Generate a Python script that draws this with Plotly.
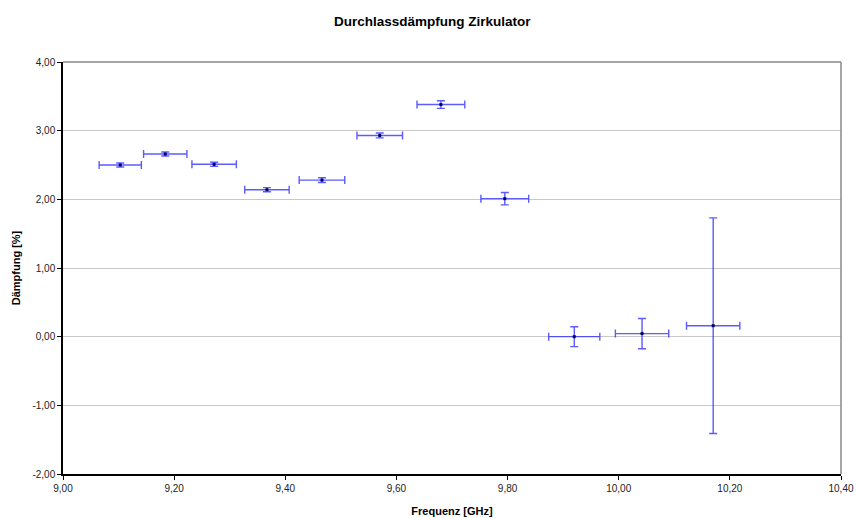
import plotly.graph_objects as go

# Messwerte: Frequenz [GHz], Dämpfung [%] und Unsicherheiten
frequenz = [9.103, 9.184, 9.272, 9.367, 9.466, 9.570, 9.680, 9.795, 9.920, 10.042, 10.170]
daempfung = [2.50, 2.66, 2.51, 2.14, 2.28, 2.93, 3.38, 2.01, 0.00, 0.045, 0.16]
fehler_f = [0.038, 0.039, 0.040, 0.040, 0.041, 0.041, 0.043, 0.043, 0.046, 0.048, 0.048]
fehler_d = [0.03, 0.03, 0.03, 0.03, 0.035, 0.035, 0.055, 0.09, 0.145, 0.22, 1.57]

x_ticks = [9.0, 9.2, 9.4, 9.6, 9.8, 10.0, 10.2, 10.4]
x_labels = ["9,00", "9,20", "9,40", "9,60", "9,80", "10,00", "10,20", "10,40"]
y_ticks = [-2, -1, 0, 1, 2, 3, 4]
y_labels = ["-2,00", "-1,00", "0,00", "1,00", "2,00", "3,00", "4,00"]

fig = go.Figure()
fig.add_trace(go.Scatter(
    x=frequenz, y=daempfung, mode="markers",
    marker=dict(symbol="square", size=3, color="#000066"),
    error_x=dict(type="data", array=fehler_f, visible=True,
                 color="rgba(50,50,255,0.8)", thickness=1.4, width=4),
    error_y=dict(type="data", array=fehler_d, visible=True,
                 color="rgba(50,50,255,0.8)", thickness=1.4, width=4),
    showlegend=False,
))

# Rahmen des Diagrammbereichs oben und rechts
fig.add_shape(type="line", xref="paper", yref="paper", x0=0, x1=1, y0=1, y1=1,
              line=dict(color="#888888", width=1.5))
fig.add_shape(type="line", xref="paper", yref="paper", x0=1, x1=1, y0=0, y1=1,
              line=dict(color="#888888", width=1.5))

fig.update_layout(
    width=856, height=518,
    margin=dict(l=63, r=15, t=62, b=44, autoexpand=False),
    paper_bgcolor="white", plot_bgcolor="white",
    font=dict(family="Liberation Sans, Arial, sans-serif", size=10, color="#222222"),
    title=dict(text="<b>Durchlassdämpfung Zirkulator</b>", x=0.505, xanchor="center",
               y=1 - 21 / 518, yanchor="middle",
               font=dict(size=13.5, family="Liberation Sans, Arial, sans-serif", color="#000000")),
    xaxis=dict(
        range=[9.0, 10.4], tickvals=x_ticks, ticktext=x_labels,
        showgrid=False, zeroline=False, automargin=False,
        showline=True, linecolor="#000000", linewidth=1.5,
        ticks="outside", ticklen=4, tickcolor="#000000",
        title=dict(text="<b>Frequenz [GHz]</b>", standoff=15,
                   font=dict(size=11, color="#000000")),
    ),
    yaxis=dict(
        range=[-2, 4], tickvals=y_ticks, ticktext=y_labels,
        showgrid=True, gridcolor="#c8c8c8", gridwidth=1, zeroline=False,
        automargin=False,
        showline=True, linecolor="#000000", linewidth=1.5,
        ticks="outside", ticklen=4, tickcolor="#000000",
        title=dict(text="<b>Dämpfung [%]</b>", standoff=10,
                   font=dict(size=11, color="#000000")),
    ),
)

fig.write_html("out.html")
